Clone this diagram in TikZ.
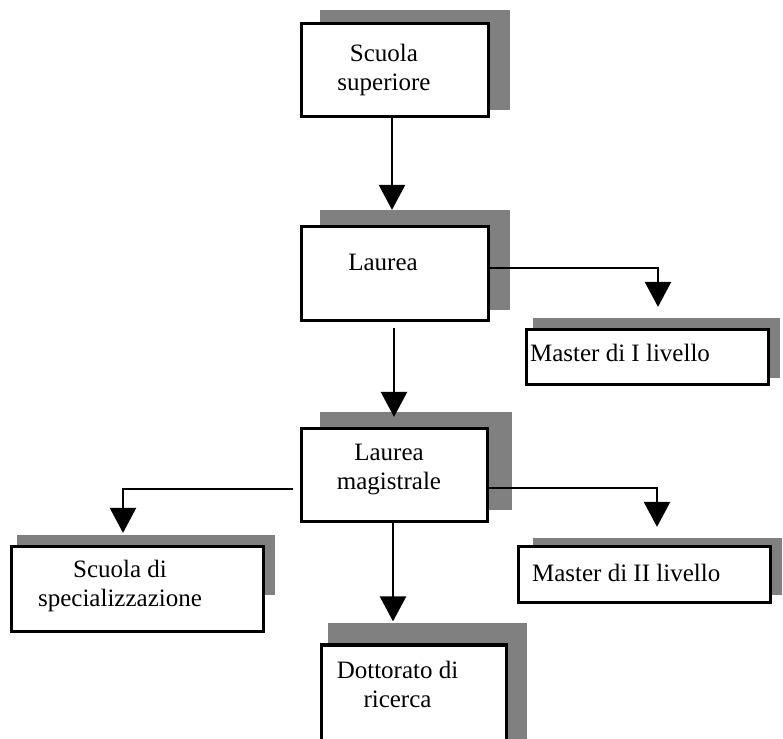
\documentclass[tikz,border=0pt]{standalone}
\usepackage{fontspec}
\setmainfont{Liberation Serif}
\usetikzlibrary{arrows.meta}
\definecolor{shadowgray}{RGB}{128,128,128}
\begin{document}
\begin{tikzpicture}[x=1pt,y=-1pt,
  box/.style={draw, line width=3.2pt, fill=white, inner sep=0pt},
  txt/.style={align=center, inner sep=0pt, font=\fontsize{25}{29}\selectfont},
  conn/.style={line width=2.4pt, -{Triangle[width=26pt,length=25pt]}},
  shadowbox/.style={fill=shadowgray}]
\path[use as bounding box, clip] (0,0) rectangle (783,738);
\fill[white] (0,0) rectangle (783,738);
% shadows
\fill[shadowbox] (320,10) rectangle (510,110);
\fill[shadowbox] (320,210) rectangle (510,310);
\fill[shadowbox] (533,318) rectangle (780,378);
\fill[shadowbox] (320,412) rectangle (512,510);
\fill[shadowbox] (17,535) rectangle (275,595);
\fill[shadowbox] (533,538) rectangle (782,595);
\fill[shadowbox] (328,623) rectangle (527,760);
% boxes
\node[box, minimum width=187pt, minimum height=93pt,
  label={[txt,xshift=-11pt]center:{Scuola\\superiore}}] (sup) at (395,70) {};
\node[box, minimum width=187pt, minimum height=94pt,
  label={[txt,xshift=-12pt,yshift=11.5pt]center:Laurea}] (lau) at (395,273.5) {};
\node[box, minimum width=242pt, minimum height=55pt,
  label={[txt,anchor=west,xshift=5pt,yshift=4.5pt]west:{Master di I livello}}] (m1) at (647.5,357) {};
\node[box, minimum width=186pt, minimum height=93pt,
  label={[txt,xshift=-5.5pt,yshift=5pt]center:{Laurea\\magistrale}}] (lm) at (394.5,475) {};
\node[box, minimum width=252pt, minimum height=85pt,
  label={[txt,xshift=-17.5pt,yshift=3pt]center:{Scuola di\\specializzazione}}] (spec) at (137.5,589) {};
\node[box, minimum width=252pt, minimum height=56pt,
  label={[txt,anchor=west,xshift=15pt,yshift=2pt]west:{Master di II livello}}] (m2) at (644.5,574.5) {};
\node[box, minimum width=185pt, minimum height=105pt,
  label={[txt,xshift=-16.5pt,yshift=13.5pt]center:{Dottorato di\\ricerca}}] (dott) at (414,697.5) {};
% connectors
\draw[conn] ([xshift=-3pt]sup.south) -- ([xshift=-3pt,yshift=15pt]lau.north);
\draw[conn] ([xshift=-1pt,yshift=-6pt]lau.south) -- ([xshift=-0.5pt,yshift=10pt]lm.north);
\draw[conn] ([xshift=-1.5pt]lm.south) -- ([xshift=-21pt,yshift=22pt]dott.north);
\draw[conn] ([yshift=5.5pt]lau.east) -| ([xshift=10.5pt,yshift=21pt]m1.north);
\draw[conn] ([yshift=-13pt]lm.east) -| ([xshift=12.5pt,yshift=18pt]m2.north);
\draw[conn] ([xshift=-7pt,yshift=-14pt]lm.west) -| ([xshift=-14.5pt,yshift=12pt]spec.north);
\end{tikzpicture}
\end{document}
